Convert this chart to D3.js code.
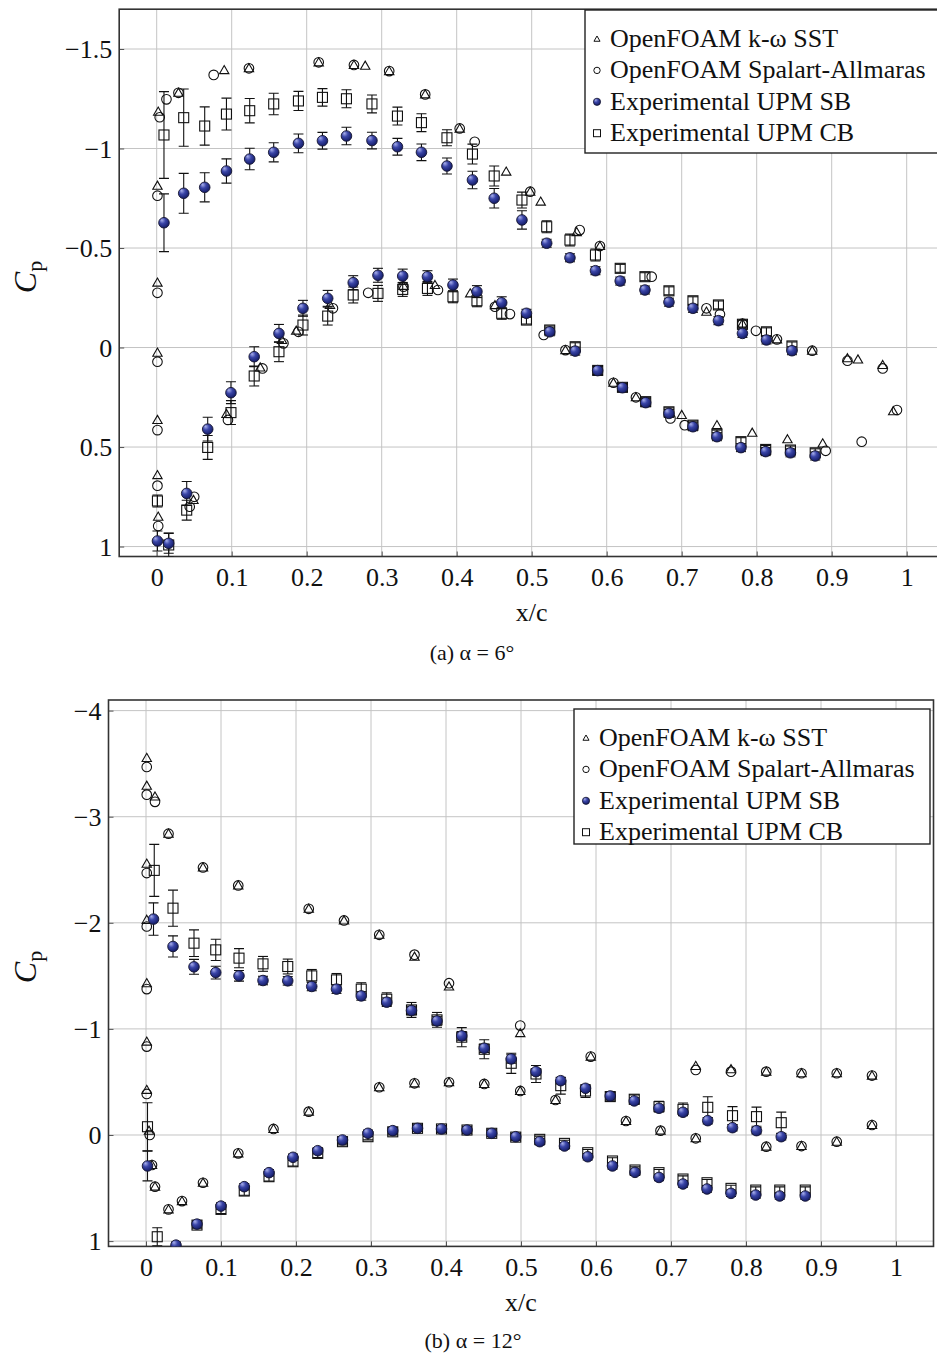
<!DOCTYPE html>
<html>
<head>
<meta charset="utf-8">
<script src="https://cdn.jsdelivr.net/npm/d3@7"></script>
<style>
  html, body { margin: 0; padding: 0; background: #fff; }
  svg { display: block; }
  text { font-family: "Liberation Serif", "DejaVu Serif", serif; fill: #111; }
</style>
</head>
<body>
<svg id="fig" width="937" height="1353"></svg>
<script>
// ---------------- DATA ----------------
const xTicks = [0, 0.1, 0.2, 0.3, 0.4, 0.5, 0.6, 0.7, 0.8, 0.9, 1];
const yTicks6 = [-1.5, -1, -0.5, 0, 0.5, 1];
const yTicks12 = [-4, -3, -2, -1, 0, 1];
const legendLabels = ["OpenFOAM k-ω SST", "OpenFOAM Spalart-Allmaras", "Experimental UPM SB", "Experimental UPM CB"];
const captions = ["(a) α = 6°", "(b) α = 12°"];

// alpha = 6 deg : [x/c, Cp]
const sst6 = [
  [0.002,-1.185],[0.001,-0.813],[0.001,-0.326],[0.001,0.026],[0.001,0.364],[0.001,0.641],[0.002,0.85],
  [0.029,-1.28],[0.090,-1.394],[0.123,-1.403],[0.216,-1.433],[0.263,-1.42],[0.278,-1.416],[0.310,-1.389],
  [0.358,-1.272],[0.404,-1.10],[0.466,-0.884],[0.498,-0.783],[0.512,-0.733],[0.560,-0.58],[0.591,-0.51],
  [0.733,-0.18],[0.781,-0.12],[0.827,-0.041],[0.874,0.016],[0.921,0.054],[0.935,0.06],[0.968,0.088],[0.982,0.32],
  [0.049,0.766],[0.093,0.334],[0.138,0.10],[0.167,-0.038],[0.186,-0.085],[0.231,-0.214],[0.329,-0.31],
  [0.371,-0.314],[0.418,-0.272],[0.451,-0.213],[0.545,0.013],[0.609,0.177],[0.639,0.25],[0.70,0.339],
  [0.747,0.39],[0.794,0.428],[0.841,0.461],[0.888,0.482]
];
const sa6 = [
  [0.004,-1.157],[0.001,-0.763],[0.001,-0.275],[0.001,0.071],[0.001,0.415],[0.001,0.694],[0.002,0.897],
  [0.013,-1.247],[0.029,-1.28],[0.076,-1.37],[0.123,-1.403],[0.216,-1.433],[0.263,-1.42],[0.310,-1.389],
  [0.358,-1.272],[0.404,-1.101],[0.424,-1.034],[0.498,-0.783],[0.564,-0.59],[0.591,-0.51],[0.66,-0.356],
  [0.733,-0.197],[0.751,-0.167],[0.781,-0.12],[0.799,-0.084],[0.827,-0.041],[0.874,0.016],[0.921,0.066],
  [0.968,0.105],[0.987,0.314],
  [0.044,0.80],[0.050,0.75],[0.095,0.364],[0.141,0.105],[0.169,-0.021],[0.189,-0.079],[0.235,-0.197],
  [0.282,-0.275],[0.329,-0.306],[0.375,-0.289],[0.451,-0.205],[0.471,-0.168],[0.516,-0.063],[0.545,0.013],
  [0.609,0.177],[0.639,0.25],[0.685,0.356],[0.704,0.39],[0.892,0.519],[0.94,0.473]
];
// [x/c, Cp, error]
const sb6 = [
  [0.0097,-0.627,0.145],[0.036,-0.775,0.10],[0.064,-0.805,0.073],[0.093,-0.887,0.061],[0.124,-0.947,0.054],
  [0.156,-0.981,0.048],[0.189,-1.026,0.047],[0.221,-1.039,0.042],[0.253,-1.063,0.044],[0.287,-1.040,0.042],
  [0.321,-1.009,0.042],[0.353,-0.981,0.042],[0.387,-0.912,0.040],[0.421,-0.842,0.044],[0.450,-0.750,0.049],
  [0.487,-0.641,0.046],[0.520,-0.524,0.02],[0.551,-0.451,0.02],[0.585,-0.386,0.02],[0.618,-0.334,0.02],
  [0.651,-0.289,0.02],[0.683,-0.228,0.02],[0.715,-0.197,0.02],[0.749,-0.135,0.02],[0.781,-0.071,0.02],
  [0.813,-0.038,0.02],[0.847,0.016,0.02],
  [0.001,0.972,0.05],[0.016,0.984,0.05],[0.040,0.733,0.06],[0.068,0.41,0.06],[0.099,0.227,0.055],
  [0.130,0.046,0.05],[0.163,-0.071,0.045],[0.195,-0.197,0.04],[0.228,-0.247,0.04],[0.262,-0.326,0.035],
  [0.295,-0.363,0.035],[0.328,-0.359,0.035],[0.361,-0.356,0.03],[0.395,-0.314,0.03],[0.427,-0.281,0.03],
  [0.460,-0.225,0.03],[0.493,-0.172,0.02],[0.524,-0.079,0.02],[0.558,0.018,0.02],[0.588,0.116,0.02],
  [0.621,0.202,0.02],[0.652,0.277,0.02],[0.683,0.331,0.02],[0.715,0.398,0.02],[0.747,0.448,0.02],
  [0.779,0.503,0.02],[0.812,0.523,0.02],[0.845,0.529,0.02],[0.878,0.545,0.02]
];
const cb6 = [
  [0.0097,-1.068,0.218],[0.036,-1.155,0.144],[0.064,-1.113,0.096],[0.093,-1.173,0.08],[0.124,-1.19,0.061],
  [0.156,-1.224,0.054],[0.189,-1.239,0.048],[0.221,-1.257,0.044],[0.253,-1.25,0.045],[0.287,-1.224,0.045],
  [0.321,-1.163,0.045],[0.353,-1.13,0.045],[0.387,-1.054,0.04],[0.421,-0.972,0.05],[0.450,-0.862,0.05],
  [0.487,-0.741,0.04],[0.520,-0.607,0.03],[0.551,-0.54,0.03],[0.585,-0.465,0.03],[0.618,-0.398,0.02],
  [0.651,-0.356,0.02],[0.683,-0.285,0.02],[0.715,-0.235,0.02],[0.749,-0.214,0.02],[0.781,-0.117,0.02],
  [0.813,-0.079,0.02],[0.847,-0.008,0.02],
  [0.001,0.771,0.03],[0.016,0.992,0.06],[0.040,0.817,0.05],[0.068,0.502,0.06],[0.099,0.327,0.06],
  [0.130,0.143,0.05],[0.163,0.021,0.05],[0.195,-0.113,0.05],[0.228,-0.158,0.045],[0.262,-0.264,0.04],
  [0.295,-0.272,0.04],[0.328,-0.292,0.035],[0.361,-0.297,0.035],[0.395,-0.255,0.03],[0.427,-0.235,0.03],
  [0.460,-0.172,0.03],[0.493,-0.138,0.02],[0.524,-0.088,0.02],[0.558,-0.004,0.02],[0.588,0.115,0.02],
  [0.621,0.20,0.02],[0.652,0.272,0.02],[0.683,0.323,0.02],[0.715,0.39,0.02],[0.747,0.435,0.02],
  [0.779,0.473,0.02],[0.812,0.512,0.02],[0.845,0.515,0.02],[0.878,0.529,0.02]
];

// alpha = 12 deg
const sst12 = [
  [0.001,-3.554],[0.001,-3.292],[0.012,-3.19],[0.03,-2.84],[0.001,-2.557],[0.076,-2.522],[0.123,-2.352],
  [0.217,-2.132],[0.264,-2.022],[0.311,-1.887],[0.358,-1.68],[0.001,-2.028],[0.001,-1.431],[0.404,-1.40],
  [0.499,-0.96],[0.001,-0.88],[0.001,-0.425],[0.004,-0.04],[0.008,0.283],[0.012,0.487],[0.03,0.701],
  [0.048,0.623],[0.076,0.45],[0.123,0.173],[0.17,-0.057],[0.217,-0.22],[0.311,-0.45],[0.358,-0.487],
  [0.404,-0.497],[0.451,-0.481],[0.499,-0.415],[0.546,-0.33],[0.593,-0.739],[0.64,-0.132],[0.686,-0.041],
  [0.733,0.031],[0.733,-0.651],[0.78,-0.62],[0.827,-0.597],[0.827,0.11],[0.874,-0.582],[0.874,0.104],
  [0.921,-0.582],[0.921,0.063],[0.968,-0.56],[0.968,-0.094]
];
const sa12 = [
  [0.001,-3.469],[0.001,-3.208],[0.012,-3.14],[0.03,-2.84],[0.001,-2.469],[0.076,-2.522],[0.123,-2.352],
  [0.217,-2.132],[0.264,-2.022],[0.311,-1.887],[0.358,-1.70],[0.001,-1.965],[0.001,-1.375],[0.404,-1.431],
  [0.499,-1.031],[0.001,-0.833],[0.001,-0.387],[0.005,0.0],[0.008,0.283],[0.012,0.487],[0.03,0.701],
  [0.048,0.623],[0.076,0.45],[0.123,0.173],[0.17,-0.057],[0.217,-0.22],[0.311,-0.45],[0.358,-0.487],
  [0.404,-0.497],[0.451,-0.481],[0.499,-0.415],[0.546,-0.33],[0.593,-0.739],[0.64,-0.132],[0.686,-0.041],
  [0.733,0.031],[0.733,-0.613],[0.78,-0.597],[0.827,-0.597],[0.827,0.11],[0.874,-0.582],[0.874,0.104],
  [0.921,-0.582],[0.921,0.063],[0.968,-0.56],[0.968,-0.094]
];
const sb12 = [
  [0.010,-2.035,0.153],[0.036,-1.777,0.10],[0.064,-1.585,0.07],[0.093,-1.531,0.06],[0.124,-1.50,0.05],
  [0.156,-1.456,0.04],[0.189,-1.453,0.04],[0.221,-1.40,0.04],[0.254,-1.375,0.04],[0.287,-1.311,0.04],
  [0.321,-1.252,0.04],[0.354,-1.173,0.04],[0.388,-1.075,0.04],[0.421,-0.934,0.04],[0.451,-0.818,0.04],
  [0.487,-0.717,0.04],[0.520,-0.597,0.03],[0.553,-0.512,0.03],[0.586,-0.44,0.03],[0.619,-0.368,0.03],
  [0.651,-0.321,0.03],[0.684,-0.252,0.03],[0.716,-0.214,0.03],[0.749,-0.135,0.03],[0.782,-0.069,0.03],
  [0.814,-0.041,0.03],[0.847,0.016,0.03],
  [0.002,0.292,0.14],[0.040,1.038,0.03],[0.068,0.84,0.03],[0.100,0.67,0.03],[0.131,0.487,0.03],
  [0.164,0.355,0.03],[0.196,0.21,0.03],[0.229,0.148,0.03],[0.262,0.047,0.03],[0.296,-0.016,0.03],
  [0.329,-0.041,0.03],[0.362,-0.063,0.03],[0.394,-0.057,0.03],[0.428,-0.047,0.03],[0.461,-0.016,0.03],
  [0.493,0.016,0.03],[0.525,0.063,0.03],[0.558,0.104,0.03],[0.589,0.205,0.03],[0.622,0.292,0.03],
  [0.652,0.352,0.03],[0.684,0.40,0.03],[0.716,0.462,0.03],[0.748,0.509,0.03],[0.780,0.55,0.03],
  [0.813,0.566,0.03],[0.845,0.575,0.03],[0.879,0.575,0.03]
];
const cb12 = [
  [0.011,-2.494,0.245],[0.036,-2.138,0.17],[0.064,-1.808,0.125],[0.093,-1.745,0.10],[0.124,-1.667,0.09],
  [0.156,-1.613,0.07],[0.189,-1.588,0.07],[0.221,-1.50,0.06],[0.254,-1.462,0.06],[0.287,-1.375,0.06],
  [0.321,-1.28,0.06],[0.354,-1.179,0.07],[0.388,-1.085,0.07],[0.421,-0.922,0.09],[0.451,-0.808,0.09],
  [0.487,-0.676,0.095],[0.520,-0.575,0.08],[0.553,-0.465,0.08],[0.586,-0.415,0.06],[0.619,-0.362,0.04],
  [0.651,-0.337,0.04],[0.684,-0.267,0.05],[0.716,-0.242,0.06],[0.749,-0.261,0.10],[0.782,-0.182,0.085],
  [0.814,-0.173,0.09],[0.847,-0.116,0.10],
  [0.002,-0.078,0.226],[0.015,0.959,0.085],[0.068,0.849,0.03],[0.100,0.701,0.04],[0.131,0.528,0.04],
  [0.164,0.393,0.04],[0.196,0.252,0.04],[0.229,0.173,0.04],[0.262,0.063,0.03],[0.296,0.016,0.03],
  [0.329,-0.03,0.03],[0.362,-0.063,0.03],[0.394,-0.057,0.03],[0.428,-0.047,0.03],[0.461,-0.016,0.03],
  [0.493,0.02,0.03],[0.525,0.041,0.03],[0.558,0.079,0.03],[0.589,0.167,0.03],[0.622,0.245,0.03],
  [0.652,0.33,0.03],[0.684,0.355,0.03],[0.716,0.415,0.03],[0.748,0.45,0.03],[0.780,0.503,0.03],
  [0.813,0.519,0.03],[0.845,0.519,0.03],[0.879,0.519,0.03]
];

// ---------------- DRAWING ----------------
const SERIF = '"Liberation Serif", "DejaVu Serif", serif';
const svg = d3.select("#fig");
const defs = svg.append("defs");
const grad = defs.append("radialGradient").attr("id", "ball")
  .attr("cx", "0.4").attr("cy", "0.35").attr("r", "0.65").attr("fx", "0.3").attr("fy", "0.25");
grad.append("stop").attr("offset", "0%").attr("stop-color", "#a9b0ec");
grad.append("stop").attr("offset", "45%").attr("stop-color", "#3a45a8");
grad.append("stop").attr("offset", "100%").attr("stop-color", "#141c66");

const fmt = v => (v < 0 ? "\u2212" : "") + String(Math.abs(v));

function panel(cfg) {
  const x = d3.scaleLinear().domain([-0.05, 1.05]).range(cfg.xRange);
  const y = d3.scaleLinear().domain(cfg.yDomain).range(cfg.yRange);
  const g = svg.append("g");
  const [x0, x1] = cfg.xRange, [y0, y1] = cfg.yRange;

  const clipId = "clip" + cfg.id;
  defs.append("clipPath").attr("id", clipId).append("rect")
    .attr("x", x0).attr("y", y0).attr("width", x1 - x0).attr("height", y1 - y0);

  // grid
  const grid = g.append("g").attr("stroke", "#c4c4c4").attr("stroke-width", 1);
  grid.selectAll("line.v").data(xTicks).join("line")
    .attr("x1", d => x(d)).attr("x2", d => x(d)).attr("y1", y0).attr("y2", y1);
  grid.selectAll("line.h").data(cfg.yTicks).join("line")
    .attr("x1", x0).attr("x2", x1).attr("y1", d => y(d)).attr("y2", d => y(d));

  // axes via d3 axis (ticks inside)
  const ax = g.append("g").attr("transform", `translate(0,${y1})`)
    .call(d3.axisBottom(x).tickValues(xTicks).tickSize(-5).tickPadding(11).tickFormat(fmt));
  const ay = g.append("g").attr("transform", `translate(${x0},0)`)
    .call(d3.axisLeft(y).tickValues(cfg.yTicks).tickSize(-5).tickPadding(7).tickFormat(fmt));
  [ax, ay].forEach(a => {
    a.attr("font-family", SERIF);
    a.select(".domain").remove();
    a.selectAll(".tick line").attr("stroke", "#555");
    a.selectAll(".tick text").attr("font-size", 26).style("font-family", SERIF).attr("fill", "#111");
  });
  ax.selectAll(".tick text").attr("dy", "0.71em");
  ay.selectAll(".tick text").attr("dy", "0.33em");

  // frame
  g.append("rect").attr("x", x0).attr("y", y0).attr("width", x1 - x0).attr("height", y1 - y0)
    .attr("fill", "none").attr("stroke", "#333").attr("stroke-width", 1.6);

  const plot = g.append("g").attr("clip-path", `url(#${clipId})`);

  // SST triangles
  const tri = d3.symbol().type(d3.symbolTriangle).size(38);
  plot.append("g").selectAll("path").data(cfg.sst).join("path")
    .attr("d", tri).attr("transform", d => `translate(${x(d[0])},${y(d[1]) + 0.8})`)
    .attr("fill", "none").attr("stroke", "#111").attr("stroke-width", 1.1);
  // SA circles
  plot.append("g").selectAll("circle").data(cfg.sa).join("circle")
    .attr("cx", d => x(d[0])).attr("cy", d => y(d[1])).attr("r", 4.8)
    .attr("fill", "none").attr("stroke", "#111").attr("stroke-width", 1.1);

  // error bars
  function errbars(data) {
    const eb = plot.append("g").attr("stroke", "#111").attr("stroke-width", 1.1);
    eb.selectAll("line.e").data(data).join("line")
      .attr("x1", d => x(d[0])).attr("x2", d => x(d[0]))
      .attr("y1", d => y(d[1] - d[2])).attr("y2", d => y(d[1] + d[2]));
    eb.selectAll("line.t").data(data).join("line")
      .attr("x1", d => x(d[0]) - 5).attr("x2", d => x(d[0]) + 5)
      .attr("y1", d => y(d[1] - d[2])).attr("y2", d => y(d[1] - d[2]));
    eb.selectAll("line.b").data(data).join("line")
      .attr("x1", d => x(d[0]) - 5).attr("x2", d => x(d[0]) + 5)
      .attr("y1", d => y(d[1] + d[2])).attr("y2", d => y(d[1] + d[2]));
  }
  // CB squares
  errbars(cfg.cb);
  plot.append("g").selectAll("rect").data(cfg.cb).join("rect")
    .attr("x", d => x(d[0]) - 5).attr("y", d => y(d[1]) - 5).attr("width", 10).attr("height", 10)
    .attr("fill", "none").attr("stroke", "#111").attr("stroke-width", 1.1);
  // SB balls
  errbars(cfg.sb);
  plot.append("g").selectAll("circle").data(cfg.sb).join("circle")
    .attr("cx", d => x(d[0])).attr("cy", d => y(d[1])).attr("r", 5.3)
    .attr("fill", "url(#ball)").attr("stroke", "#151530").attr("stroke-width", 0.9);

  // axis labels
  g.append("text").attr("x", (x0 + x1) / 2).attr("y", cfg.xLabelY).attr("text-anchor", "middle")
    .attr("font-size", 26).style("font-family", SERIF).text("x/c");
  const yl = g.append("text").attr("transform", `translate(${cfg.yLabelX},${cfg.yLabelY}) rotate(-90)`)
    .attr("text-anchor", "middle").attr("font-size", 32).style("font-family", SERIF);
  yl.append("tspan").attr("font-style", "italic").text("C");
  yl.append("tspan").attr("font-size", 22).attr("dy", 6).text("p");

  // caption
  g.append("text").attr("x", cfg.capX).attr("y", cfg.capY).attr("text-anchor", "middle")
    .attr("font-size", 22).style("font-family", SERIF).text(cfg.caption);

  // legend
  const L = cfg.legend;
  const lg = g.append("g");
  lg.append("rect").attr("x", L.x).attr("y", L.y).attr("width", L.w).attr("height", L.h)
    .attr("fill", "#fff").attr("stroke", "#222").attr("stroke-width", 1.4);
  legendLabels.forEach((lab, i) => {
    const by = L.y + 37 + i * 31.4;
    const mx = L.x + 12, my = by - 8;
    if (i === 0) lg.append("path").attr("d", d3.symbol().type(d3.symbolTriangle).size(16))
      .attr("transform", `translate(${mx},${my + 0.5})`).attr("fill", "none").attr("stroke", "#111").attr("stroke-width", 1);
    if (i === 1) lg.append("circle").attr("cx", mx).attr("cy", my).attr("r", 3.2)
      .attr("fill", "none").attr("stroke", "#111").attr("stroke-width", 1);
    if (i === 2) lg.append("circle").attr("cx", mx).attr("cy", my).attr("r", 3.6)
      .attr("fill", "url(#ball)").attr("stroke", "#151530").attr("stroke-width", 0.8);
    if (i === 3) lg.append("rect").attr("x", mx - 3.5).attr("y", my - 3.5).attr("width", 7).attr("height", 7)
      .attr("fill", "none").attr("stroke", "#111").attr("stroke-width", 1);
    lg.append("text").attr("x", L.x + 25).attr("y", by).attr("font-size", 26)
      .style("font-family", SERIF).text(lab);
  });
}

panel({
  id: "a", xRange: [119.2, 944.2], yDomain: [-1.7, 1.05], yRange: [9.2, 556.5], yTicks: yTicks6,
  sst: sst6, sa: sa6, sb: sb6, cb: cb6,
  xLabelY: 621, yLabelX: 36, yLabelY: 277, capX: 472, capY: 660, caption: captions[0],
  legend: { x: 585, y: 10, w: 365, h: 143 }
});
panel({
  id: "b", xRange: [108.5, 933.5], yDomain: [-4.1, 1.05], yRange: [700, 1246.4], yTicks: yTicks12,
  sst: sst12, sa: sa12, sb: sb12, cb: cb12,
  xLabelY: 1311, yLabelX: 36, yLabelY: 967, capX: 473, capY: 1348, caption: captions[1],
  legend: { x: 574, y: 709, w: 356, h: 135 }
});
</script>
</body>
</html>
